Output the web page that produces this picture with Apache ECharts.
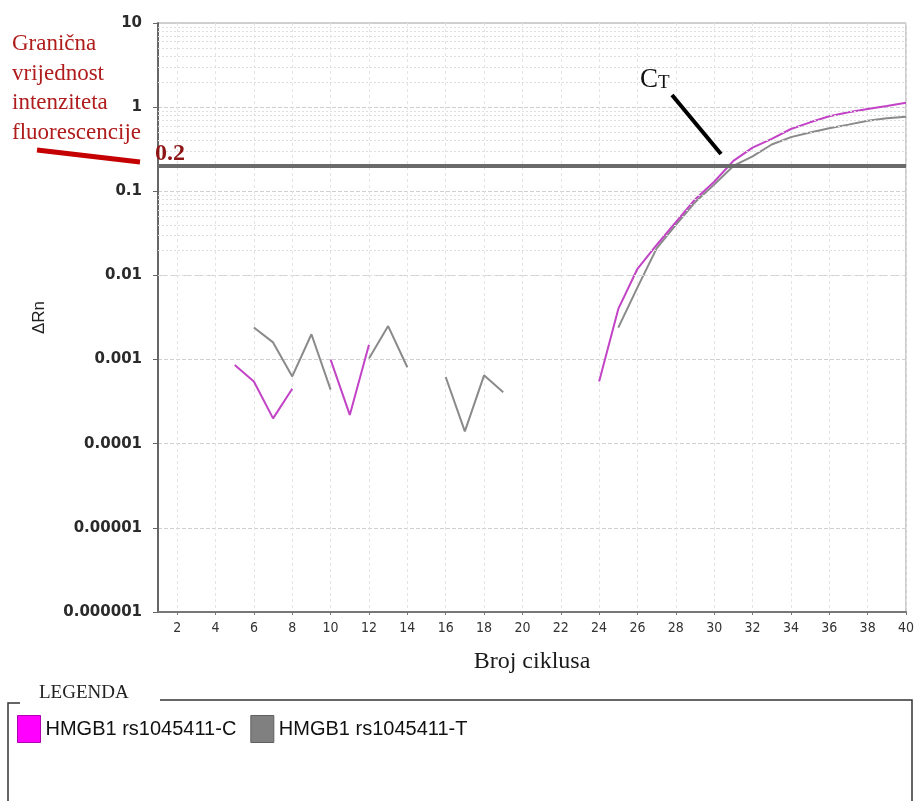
<!DOCTYPE html>
<html>
<head>
<meta charset="utf-8">
<script src="https://cdn.jsdelivr.net/npm/echarts@6/dist/echarts.min.js"></script>
<style>
html,body{margin:0;padding:0;background:#fff;}
#chart{width:917px;height:801px;}
</style>
</head>
<body>
<div id="chart"></div>
<script>
const cycles = [1,2,3,4,5,6,7,8,9,10,11,12,13,14,15,16,17,18,19,20,21,22,23,24,25,26,27,28,29,30,31,32,33,34,35,36,37,38,39,40];
const seriesCName = 'HMGB1 rs1045411-C';
const seriesTName = 'HMGB1 rs1045411-T';
const seriesC = [null,null,null,null,0.00086,0.00055,0.0002,0.00045,null,0.001,0.00022,0.0015,
  null,null,null,null,null,null,null,null,null,null,null,
  0.00055,0.004,0.012,0.023,0.043,0.08,0.13,0.23,0.33,0.42,0.55,0.66,0.78,0.87,0.95,1.03,1.13];
const seriesT = [null,null,null,null,null,0.0024,0.0016,0.00063,0.002,0.00044,null,0.00103,0.0025,0.00081,null,
  0.00062,0.00014,0.00065,0.00041,null,null,null,null,null,
  0.0024,0.0072,0.021,0.04,0.074,0.12,0.2,0.26,0.36,0.44,0.5,0.56,0.62,0.69,0.74,0.77];
const threshold = 0.2;
const yTickLabels = ['0.000001','0.00001','0.0001','0.001','0.01','0.1','1','10'];
const xTickLabels = [2,4,6,8,10,12,14,16,18,20,22,24,26,28,30,32,34,36,38,40];

const pairs = arr => cycles.map((c, i) => [c, arr[i]]);

// minor log gridlines (2..9 × each decade)
const minorGrid = [];
for (let e = -6; e < 1; e++) {
  for (let k = 2; k <= 9; k++) minorGrid.push({ yAxis: k * Math.pow(10, e) });
}

const chart = echarts.init(document.getElementById('chart'));
chart.setOption({
  animation: false,
  backgroundColor: '#fff',
  grid: { left: 158, right: 10, top: 23, bottom: 189, show: true, borderColor: '#a0a0a0', borderWidth: 1 },
  xAxis: {
    type: 'value', min: 1, max: 40, interval: 1,
    name: 'Broj ciklusa', nameLocation: 'middle', nameGap: 38,
    nameTextStyle: { fontFamily: 'Liberation Serif', fontSize: 24, color: '#1a1a1a' },
    axisLine: { show: true, lineStyle: { color: '#777', width: 2 } },
    axisTick: { show: true, length: 3, customValues: xTickLabels, lineStyle: { color: '#777' } },
    axisLabel: {
      fontFamily: '"Liberation Sans Narrow", "DejaVu Sans Condensed", "Liberation Sans"', fontSize: 14, color: '#333', margin: 9,
      customValues: xTickLabels,
      formatter: v => xTickLabels.includes(Math.round(v)) ? String(Math.round(v)) : ''
    },
    splitLine: { show: true, lineStyle: { color: '#e4e4e4', type: [3, 3], width: 1 } }
  },
  yAxis: {
    type: 'log', logBase: 10, min: 0.000001, max: 10, interval: 1,
    name: 'ΔRn', nameLocation: 'middle', nameGap: 110, nameRotate: 90,
    nameTextStyle: { fontFamily: 'Liberation Sans', fontSize: 17, color: '#222' },
    axisLine: { show: true, lineStyle: { color: '#666', width: 2 } },
    axisTick: { show: true, length: 5, lineStyle: { color: '#666' } },
    axisLabel: {
      fontFamily: 'DejaVu Sans', fontSize: 15, fontWeight: 'bold', color: '#2a2a2a', margin: 16,
      formatter: v => yTickLabels[Math.round(Math.log10(v)) + 6] || ''
    },
    splitLine: { show: true, lineStyle: { color: '#cfcfcf', type: [4, 2], width: 1 } }
  },
  legend: {
    left: 12, top: 710, itemWidth: 23, itemHeight: 27, itemGap: 14, icon: 'rect',
    textStyle: { fontFamily: 'Liberation Sans', fontSize: 20, color: '#111' },
    data: [
      { name: seriesCName, itemStyle: { color: '#ff00ff', borderColor: '#b000b0', borderWidth: 1 } },
      { name: seriesTName, itemStyle: { color: '#808080', borderColor: '#606060', borderWidth: 1 } }
    ]
  },
  series: [
    {
      type: 'line', name: 'grid', data: [], silent: true, z: 1,
      markLine: { silent: true, symbol: 'none', animation: false, label: { show: false },
        lineStyle: { color: '#dedede', type: [2, 2], width: 1 }, data: minorGrid }
    },
    {
      type: 'line', name: 'threshold', data: [], silent: true, z: 2,
      markLine: { silent: true, symbol: 'none', animation: false, label: { show: false },
        lineStyle: { color: '#6a6a6a', type: 'solid', width: 4 }, data: [{ yAxis: threshold }] }
    },
    {
      type: 'line', name: seriesTName, data: pairs(seriesT), showSymbol: false, connectNulls: false,
      lineStyle: { color: '#8a8a8a', width: 2 }, itemStyle: { color: '#808080' }, z: 3
    },
    {
      type: 'line', name: seriesCName, data: pairs(seriesC), showSymbol: false, connectNulls: false,
      lineStyle: { color: '#c243c6', width: 2 }, itemStyle: { color: '#ff00ff' }, z: 4
    }
  ],
  graphic: [
    { type: 'text', z: 100, left: 12, top: 29, style: { text: 'Granična\nvrijednost\nintenziteta\nfluorescencije',
      font: '23px "Liberation Serif"', fill: '#b01c1c', lineHeight: 29.7 } },
    { type: 'line', z: 100, shape: { x1: 37, y1: 150, x2: 140, y2: 162 }, style: { stroke: '#c40000', lineWidth: 5 } },
    { type: 'text', z: 100, left: 155, top: 142, style: { text: '0.2', font: 'bold 24px "Liberation Serif"', fill: '#8e1515' } },
    { type: 'text', z: 100, left: 640, top: 66, style: { text: '{c|C}{t|T}', rich: {
      c: { font: '27px "Liberation Serif"', fill: '#111', verticalAlign: 'bottom' },
      t: { font: '19px "Liberation Serif"', fill: '#111', padding: [8, 0, 0, 0] } } } },
    { type: 'line', z: 100, shape: { x1: 672, y1: 95, x2: 721, y2: 154 }, style: { stroke: '#000', lineWidth: 4 } },
    { type: 'polyline', z: 100, shape: { points: [[20, 703], [8, 703], [8, 801]] }, style: { stroke: '#333', lineWidth: 1.5, fill: null } },
    { type: 'polyline', z: 100, shape: { points: [[160, 700], [912, 700], [912, 801]] }, style: { stroke: '#333', lineWidth: 1.5, fill: null } },
    { type: 'text', z: 100, left: 39, top: 684, style: { text: 'LEGENDA', font: '19px "Liberation Serif"', fill: '#222' } }
  ]
});
</script>
</body>
</html>
